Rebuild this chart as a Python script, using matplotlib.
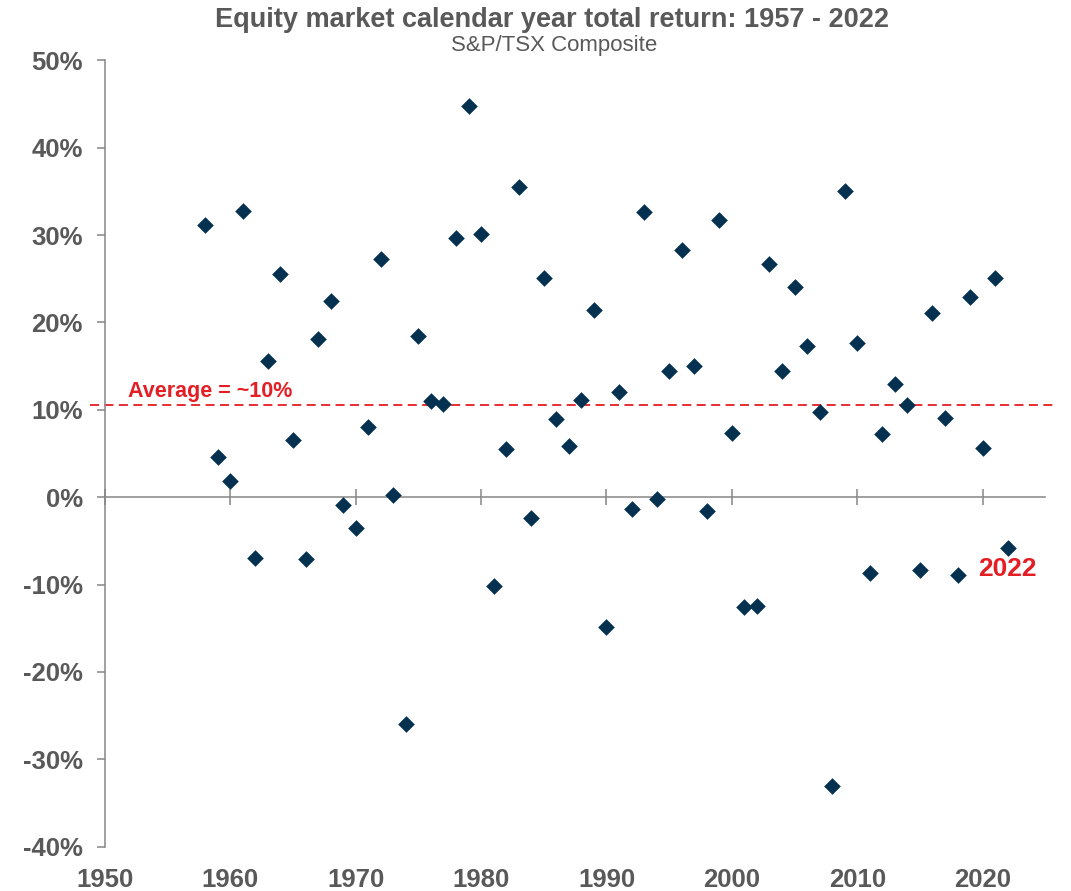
import numpy as np
import matplotlib
matplotlib.use("Agg")
import matplotlib.pyplot as plt
from matplotlib.ticker import PercentFormatter

# calendar year total return of the S&P/TSX Composite, in %
years = list(range(1958, 2023))
returns = [31.2, 4.6, 1.8, 32.7, -7.0, 15.6, 25.5, 6.6, -7.1, 18.1,
           22.5, -0.9, -3.5, 8.0, 27.3, 0.3, -26.0, 18.5, 11.0, 10.7,
           29.7, 44.8, 30.1, -10.2, 5.5, 35.5, -2.4, 25.1, 8.9, 5.9,
           11.1, 21.4, -14.8, 12.0, -1.4, 32.6, -0.2, 14.5, 28.3, 15.0,
           -1.6, 31.7, 7.4, -12.6, -12.4, 26.7, 14.5, 24.1, 17.3, 9.8,
           -33.0, 35.1, 17.6, -8.7, 7.2, 13.0, 10.6, -8.3, 21.1, 9.1,
           -8.9, 22.9, 5.6, 25.1, -5.8]
avg_return = 10.6
x_ticks = [1950, 1960, 1970, 1980, 1990, 2000, 2010, 2020]
y_ticks = [-40, -30, -20, -10, 0, 10, 20, 30, 40, 50]

plt.rcParams['font.family'] = ['Liberation Sans', 'DejaVu Sans']
plt.rcParams['font.weight'] = 'bold'
plt.rcParams['axes.unicode_minus'] = False

grey = '#595959'
axis_grey = '#868686'
navy = '#03314F'
red = '#E31E24'

fig = plt.figure(figsize=(10.71, 8.91), dpi=100)
ax = fig.add_axes([0.098, 0.0497, 0.878, 0.8826])

ax.scatter(years, returns, marker='D', s=72, color=navy, linewidths=0, zorder=3)
ax.hlines(avg_return, 1948.8, 2025.8, colors=red, linestyles=(0, (5, 3)),
          linewidth=1.3, clip_on=False, zorder=2)
ax.text(1951.8, 11.5, 'Average = ~10%', color=red, fontsize=15.5,
        fontweight='bold', va='baseline')
ax.annotate('2022', xy=(years[-1], returns[-1]), xytext=(-21, -15),
            textcoords='offset points', color=red, fontsize=19,
            fontweight='bold', ha='left', va='center')

ax.set_xlim(1950, 2025)
ax.set_ylim(-40, 50)
ax.set_xticks(x_ticks)
ax.set_yticks(y_ticks)
ax.yaxis.set_major_formatter(PercentFormatter(decimals=0))

ax.spines['bottom'].set_position(('data', 0))
ax.spines[['top', 'right']].set_visible(False)
for side in ['left', 'bottom']:
    ax.spines[side].set_color(axis_grey)
    ax.spines[side].set_linewidth(1.1)
ax.tick_params(axis='x', direction='inout', length=11, width=1.1,
               color=axis_grey, labelbottom=False)
ax.tick_params(axis='y', direction='out', length=6, width=1.1,
               color=axis_grey, labelsize=18.5, labelcolor=grey, pad=10)

# year labels sit under the plot, not on the zero line
sec = ax.secondary_xaxis(0)
sec.set_xticks(x_ticks)
for s in sec.spines.values():
    s.set_visible(False)
sec.tick_params(length=0, pad=15, labelsize=18.5, labelcolor=grey)

fig.text(0.515, 0.977, 'Equity market calendar year total return: 1957 - 2022',
         ha='center', va='center', fontsize=19.5, color=grey, fontweight='bold')
fig.text(0.517, 0.949, 'S&P/TSX Composite', ha='center', va='center',
         fontsize=16, fontweight='normal', color=grey)

fig.savefig('out.png', dpi=100)
